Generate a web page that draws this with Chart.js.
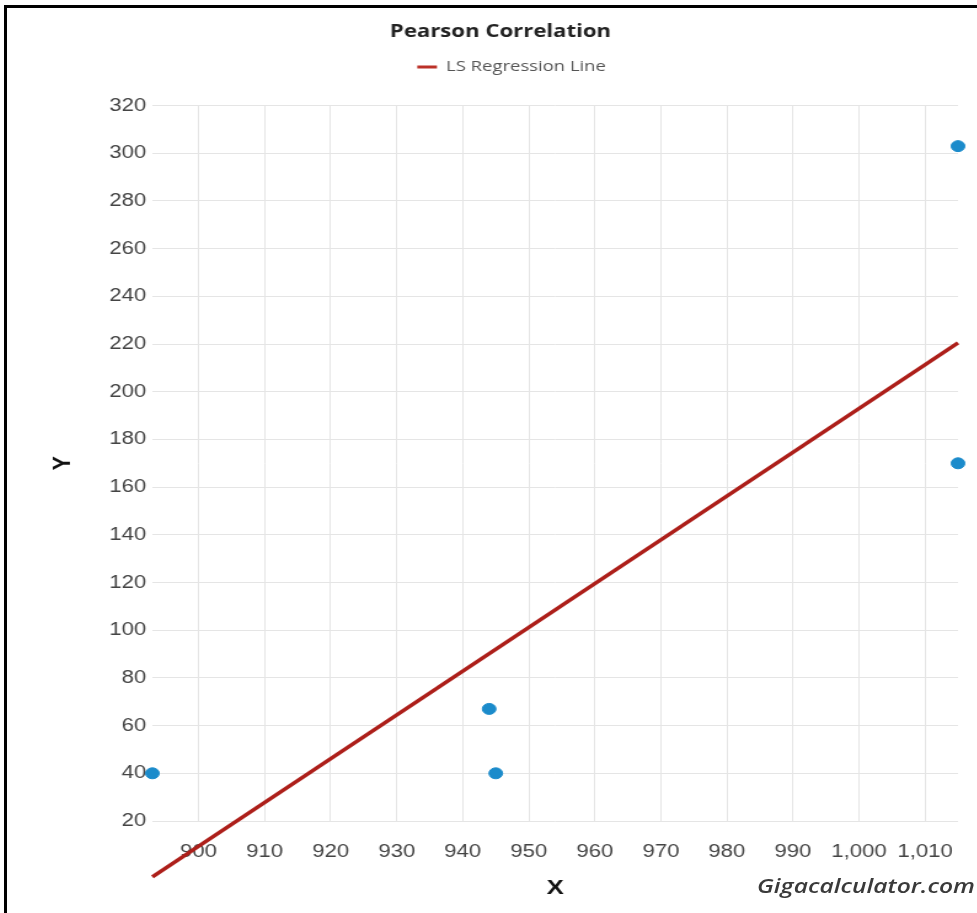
<!DOCTYPE html>
<html>
<head>
<meta charset="utf-8">
<script src="https://cdn.jsdelivr.net/npm/chart.js@4/dist/chart.umd.min.js"></script>
<style>
  html, body { margin: 0; padding: 0; background: #fff; overflow: hidden; width: 977px; height: 913px; }
  #frame { position: absolute; left: 4px; top: 5px; width: 1000px; height: 950px; border-left: 3px solid #000; border-top: 3px solid #000; }
  #wrap { position: absolute; left: 6px; top: 6px; width: 805px; height: 907px; transform: scaleX(1.23); transform-origin: 0 0; }
  #credit { position: absolute; left: 757px; top: 872px; font-family: "Open Sans", sans-serif; font-style: italic; font-weight: 600; font-size: 20px; color: #3a3a3a; white-space: nowrap; transform: scaleX(1.23); transform-origin: 0 0; }
</style>
</head>
<body>
<div id="frame"></div>
<div id="wrap"><canvas id="c"></canvas></div>
<div id="credit">Gigacalculator.com</div>
<script>
// ---- data ----
const pointX = [893, 944, 945, 1015, 1015];
const pointY = [40, 67, 40, 303, 170];
const lineX = [893, 1015];
const lineY = [-3.4, 220.5];
const xTicks = [900, 910, 920, 930, 940, 950, 960, 970, 980, 990, 1000, 1010];
const yTicks = [20, 40, 60, 80, 100, 120, 140, 160, 180, 200, 220, 240, 260, 280, 300, 320];
const titleText = "Pearson Correlation";
const lineLabel = "LS Regression Line";
const xTitle = "X";
const yTitle = "Y";

const points = pointX.map((x, i) => ({ x: x, y: pointY[i] }));
const linePts = lineX.map((x, i) => ({ x: x, y: lineY[i] }));

const tickFont = { family: "'Liberation Sans', Arial, sans-serif", size: 18 };

// adds room between the legend and the plot area, and nudges the legend right
const legendSpacer = {
  id: 'legendSpacer',
  beforeInit(chart) {
    const lg = chart.legend;
    if (!lg || lg._spaced) return;
    const orig = lg.fit;
    lg.fit = function () { orig.call(this); this.height += 21; };
    lg._spaced = true;
  },
  afterLayout(chart) {
    const lg = chart.legend;
    if (lg) { lg.left += 9; lg.right += 9; }
  }
};

new Chart(document.getElementById('c'), {
  data: {
    datasets: [
      {
        type: 'scatter',
        label: 'Data',
        data: points,
        backgroundColor: '#1b8bcb',
        borderColor: '#1b8bcb',
        pointRadius: 5.5,
        pointHoverRadius: 5.5,
        clip: false,
        order: 2
      },
      {
        type: 'line',
        label: lineLabel,
        data: linePts,
        borderColor: '#ad1f1a',
        backgroundColor: '#bb3128',
        borderWidth: 3.5,
        pointRadius: 0,
        fill: false,
        clip: false,
        order: 1
      }
    ]
  },
  plugins: [legendSpacer],
  options: {
    responsive: true,
    maintainAspectRatio: false,
    animation: false,
    layout: { padding: { left: 30, right: 31, top: 8, bottom: 0 } },
    plugins: {
      title: {
        display: true,
        text: titleText,
        color: '#222',
        font: { family: "'Open Sans', sans-serif", size: 18, weight: 'bold' },
        padding: { top: 7, bottom: 7 }
      },
      legend: {
        display: true,
        labels: {
          generateLabels: (chart) => Chart.defaults.plugins.legend.labels.generateLabels(chart)
            .filter(item => item.datasetIndex === 1)
            .map(item => Object.assign(item, { lineWidth: 0, strokeStyle: 'rgba(0,0,0,0)' })),
          boxWidth: 16,
          boxHeight: 3,
          color: '#555',
          font: { family: "'Open Sans', sans-serif", size: 15 }
        }
      },
      tooltip: { enabled: false }
    },
    scales: {
      x: {
        type: 'linear',
        position: 'bottom',
        min: 893,
        max: 1015,
        afterBuildTicks: (scale) => { scale.ticks = xTicks.map(v => ({ value: v })); },
        grid: { color: '#e5e5e5', drawTicks: false },
        border: { display: false },
        ticks: { color: '#444', font: tickFont, padding: 20, maxRotation: 0, autoSkip: false },
        title: { display: true, text: xTitle, color: '#111', font: { family: "'Liberation Sans', Arial, sans-serif", size: 21, weight: 'bold' }, padding: { top: 8, bottom: 12 } },
        afterFit: (scale) => { scale.height = 92; }
      },
      y: {
        type: 'linear',
        min: 20,
        max: 320,
        afterBuildTicks: (scale) => { scale.ticks = yTicks.map(v => ({ value: v })); },
        grid: { color: '#e5e5e5', drawTicks: false },
        border: { display: false },
        ticks: { color: '#444', font: tickFont, padding: 5, autoSkip: false },
        title: { display: true, text: yTitle, color: '#111', font: { family: "'Liberation Sans', Arial, sans-serif", size: 21, weight: 'bold' }, padding: { top: 4, bottom: 4 } },
        afterFit: (scale) => { scale.width = 89; }
      }
    }
  }
});
</script>
</body>
</html>
